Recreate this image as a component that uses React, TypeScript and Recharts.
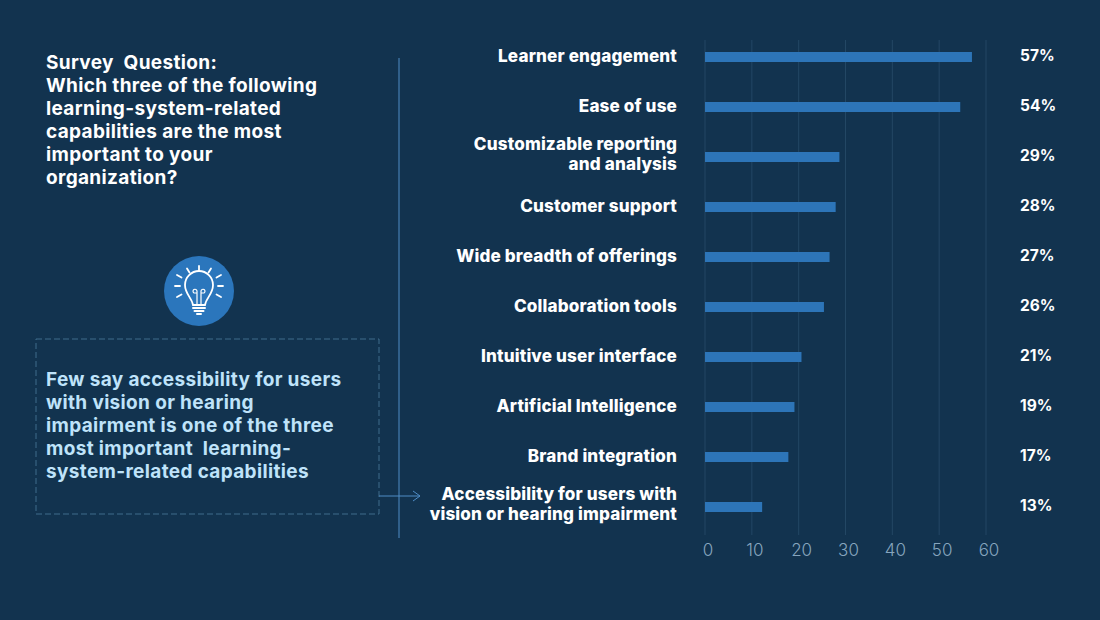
import React from "react";
import { BarChart, Bar, XAxis, YAxis, CartesianGrid, LabelList } from "recharts";

const categories = [
  "Learner engagement",
  "Ease of use",
  "Customizable reporting|and analysis",
  "Customer support",
  "Wide breadth of offerings",
  "Collaboration tools",
  "Intuitive user interface",
  "Artificial Intelligence",
  "Brand integration",
  "Accessibility for users with|vision or hearing impairment",
];
const values = [57, 54, 29, 28, 27, 26, 21, 19, 17, 13];
const barLengths = [57, 54.5, 28.7, 27.9, 26.6, 25.4, 20.6, 19.1, 17.8, 12.2];
const xTicks = [0, 10, 20, 30, 40, 50, 60];
const titleLines = [
  "Survey  Question:",
  "Which three of the following",
  "learning-system-related",
  "capabilities are the most",
  "important to your",
  "organization?",
];
const calloutLines = [
  "Few say accessibility for users",
  "with vision or hearing",
  "impairment is one of the three",
  "most important  learning-",
  "system-related capabilities",
];

const data = categories.map((name, i) => ({ name, value: values[i], length: barLengths[i] }));

const FONT = "Inter, 'Noto Sans', sans-serif";
const BG = "#12334F";
const BAR = "#2D75B8";

const CategoryTick = (props: any) => {
  const { y, payload } = props;
  const lines = String(payload.value).split("|");
  const start = lines.length === 1 ? 5 : -7;
  return (
    <text x={677} y={y} textAnchor="end" fill="#FFFFFF" fontFamily={FONT} fontWeight={800} fontSize={17.1} letterSpacing={0.15}>
      {lines.map((l, i) => (
        <tspan key={i} x={677} dy={i === 0 ? start : 20}>
          {l}
        </tspan>
      ))}
    </text>
  );
};

const ValueLabel = (props: any) => {
  const { y, height, value } = props;
  return (
    <text x={1020} y={y + height / 2 + 4} fill="#FFFFFF" fontFamily={FONT} fontWeight={700} fontSize={15.5}>
      {value}%
    </text>
  );
};

const GridLine = (props: any) => {
  const { x1, x2, y1, y2 } = props;
  return <line x1={x1} x2={x2} y1={y1 + 8} y2={y2} stroke="#234764" strokeWidth={1} />;
};

const Bulb = () => (
  <svg width={70} height={70} viewBox="0 0 70 70" style={{ position: "absolute", left: 164, top: 256 }}>
    <circle cx={35} cy={35} r={35} fill="#2B76BC" />
    <g stroke="#FFFFFF" strokeWidth={1.8} fill="none" strokeLinecap="round">
      <path d="M29 49 C28 42 21 38 21 29 A14 14 0 0 1 49 29 C49 38 42 42 41 49 Z" />
      <path d="M33 49 V35 M37 49 V35 M33 35 a2 2 0 1 0 -3 2 h3 M37 37 h3 a2 2 0 1 0 -3 -2" strokeWidth={1.2} />
      <path d="M29 52 H41 M30.5 55 H39.5 M33 58 H37" strokeWidth={2} />
      <path d="M35 10 V15 M23 12.5 L25.5 16.5 M47 12.5 L44.5 16.5 M13 19 L17.5 21.5 M57 19 L52.5 21.5 M11 30 H16 M54 30 H59 M13 41 L17.5 38.5 M57 41 L52.5 38.5" />
    </g>
  </svg>
);

const lineStyle = (color: string, size: number, lh: number): React.CSSProperties => ({
  fontFamily: FONT,
  fontWeight: 700,
  color,
  fontSize: size,
  lineHeight: `${lh}px`,
  whiteSpace: "pre",
  letterSpacing: 0.35,
});

export default function App() {
  return (
    <div style={{ position: "absolute", left: 0, top: 0, width: 1100, height: 620, background: BG, overflow: "hidden" }}>
      <BarChart
        width={1100}
        height={620}
        data={data}
        layout="vertical"
        margin={{ top: 32, right: 114, bottom: 55, left: 0 }}
        barCategoryGap={20}
        style={{ position: "absolute", left: 0, top: 0 }}
      >
        <CartesianGrid horizontal={false} vertical={(p: any) => <GridLine key={p.key ?? p.x1} {...p} />} verticalValues={xTicks} />
        <XAxis
          type="number"
          domain={[0, 60]}
          ticks={xTicks}
          height={30}
          axisLine={false}
          tickLine={false}
          tick={{ fill: "#86A5BE", fontSize: 17, fontFamily: FONT, fontWeight: 300, dx: 3 }}
          tickMargin={3}
        />
        <YAxis
          type="category"
          dataKey="name"
          width={705}
          axisLine={false}
          tickLine={false}
          interval={0}
          tick={<CategoryTick />}
          padding={{ top: 0, bottom: 3 }}
        />
        <Bar dataKey="length" fill={BAR} barSize={10} isAnimationActive={false}>
          <LabelList dataKey="value" content={<ValueLabel />} />
        </Bar>
      </BarChart>

      <svg width={1100} height={620} style={{ position: "absolute", left: 0, top: 0, pointerEvents: "none" }}>
        <rect x={36} y={339} width={343} height={175} fill="none" stroke="#3F6C8C" strokeWidth={1} strokeDasharray="6 3" />
        <line x1={399} x2={399} y1={58} y2={538} stroke="#4F8DC6" strokeWidth={1} />
        <line x1={379} x2={420} y1={496} y2={496} stroke="#4F8DC6" strokeWidth={1} />
        <path d="M413 491 L420 496 L413 501" stroke="#4F8DC6" strokeWidth={1} fill="none" />
      </svg>

      <div style={{ position: "absolute", left: 46, top: 51, ...lineStyle("#FFFFFF", 19, 23) }}>
        {titleLines.map((l) => (
          <div key={l}>{l}</div>
        ))}
      </div>
      <Bulb />
      <div style={{ position: "absolute", left: 46, top: 368, ...lineStyle("#BFE3FA", 19, 23) }}>
        {calloutLines.map((l) => (
          <div key={l}>{l}</div>
        ))}
      </div>
    </div>
  );
}
